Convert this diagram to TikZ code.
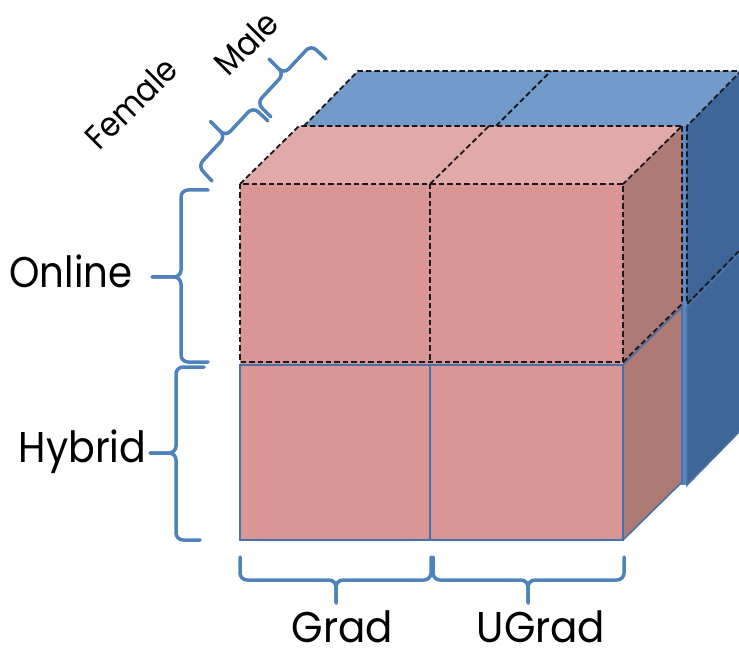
\documentclass[tikz,border=0pt]{standalone}
\usepackage{fontspec}
\setmainfont{Poppins}
\usepackage{graphicx}
\definecolor{pinkfront}{HTML}{D99694}
\definecolor{pinktop}{HTML}{E1A9A8}
\definecolor{pinkside}{HTML}{AE7A76}
\definecolor{bluetop}{HTML}{729ACB}
\definecolor{blueside}{HTML}{3F6699}
\definecolor{bluefront}{HTML}{5A87C0}
\definecolor{bracecol}{HTML}{4F81BD}
\definecolor{edgeblue}{HTML}{4971A8}
\begin{document}
\begin{tikzpicture}[x=1pt,y=-1pt,
  dashedge/.style={draw=black!90, dash pattern=on 5.5pt off 3pt, line width=1.8pt},
  solidedge/.style={draw=edgeblue, line width=1.6pt},
  bracestyle/.style={draw=bracecol, line width=3.5pt, rounded corners=7pt, line cap=round},
  lbl/.style={font=\fontsize{43}{43}\selectfont, inner sep=0pt},
  slbl/.style={font=\fontsize{34}{34}\selectfont, inner sep=0pt, rotate=45}]
\useasboundingbox (0,0) rectangle (739,652);
% back (male) box
\fill[bluefront] (304,126) rectangle (687,485);
\fill[bluetop] (304,126) -- (358,71) -- (741,71) -- (687,126) -- cycle;
\fill[blueside] (687,126) -- (741,71) -- (741,430) -- (687,485) -- cycle;
\draw[solidedge] (687,307) -- (687,485) -- (741,430);
\draw[solidedge] (687,307) -- (741,252);
\draw[dashedge] (304,126) -- (358,71) -- (741,71) -- (687,126);
\draw[dashedge] (496,126) -- (551,71);
\draw[dashedge] (687,126) -- (687,304) -- (741,249);
% front (female) box
\fill[pinkfront] (240,184) rectangle (623,540);
\fill[pinktop] (240,184) -- (299,126) -- (682,126) -- (623,184) -- cycle;
\fill[pinkside] (623,184) -- (682,126) -- (682,482) -- (623,540) -- cycle;
\draw[solidedge] (240,365) rectangle (623,540);
\draw[solidedge] (430,365) -- (430,540);
\draw[solidedge] (623,365) -- (682,307) -- (682,482) -- (623,540);
\draw[dashedge] (240,184) rectangle (623,362);
\draw[dashedge] (430,184) -- (430,362);
\draw[dashedge] (240,184) -- (299,126) -- (682,126) -- (623,184);
\draw[dashedge] (430,184) -- (489,126);
\draw[dashedge] (623,362) -- (682,304) -- (682,126);
% braces
\draw[bracestyle] (208,190) -- (181,190) -- (181,277) -- (152,277);
\draw[bracestyle] (208,362) -- (181,362) -- (181,277) -- (152,277);
\draw[bracestyle] (204,367) -- (176,367) -- (176,453) -- (150,453);
\draw[bracestyle] (200,540) -- (176,540) -- (176,453) -- (150,453);
\draw[bracestyle] (240,557) -- (240,580) -- (336,580) -- (336,603);
\draw[bracestyle] (431,557) -- (431,580) -- (336,580) -- (336,603);
\draw[bracestyle] (433,557) -- (433,580) -- (528,580) -- (528,603);
\draw[bracestyle] (624,557) -- (624,580) -- (528,580) -- (528,603);
\draw[bracestyle] (212,181) -- (198,166) -- (225.5,136.5) -- (210.5,121.5);
\draw[bracestyle] (268,121) -- (253,107) -- (225.5,136.5) -- (210.5,121.5);
\draw[bracestyle] (271,117) -- (257,103) -- (284,74) -- (269,59);
\draw[bracestyle] (326,59) -- (311,45) -- (284,74) -- (269,59);
% labels
\node[lbl, anchor=base] (online) at (71,288) {\scalebox{0.9}[1]{Online}};
\node[lbl, anchor=base] (hybrid) at (82.5,462) {\scalebox{0.92}[1]{Hybrid}};
\node[lbl, anchor=base] (grad) at (342.5,642) {\scalebox{0.94}[1]{Grad}};
\node[lbl, anchor=base] (ugrad) at (541,642) {\scalebox{0.94}[1]{UGrad}};
\node[slbl] (female) at (131,103) {\scalebox{0.9}[1]{Female}};
\node[slbl] (male) at (246,43) {\scalebox{0.9}[1]{Male}};
\end{tikzpicture}
\end{document}
